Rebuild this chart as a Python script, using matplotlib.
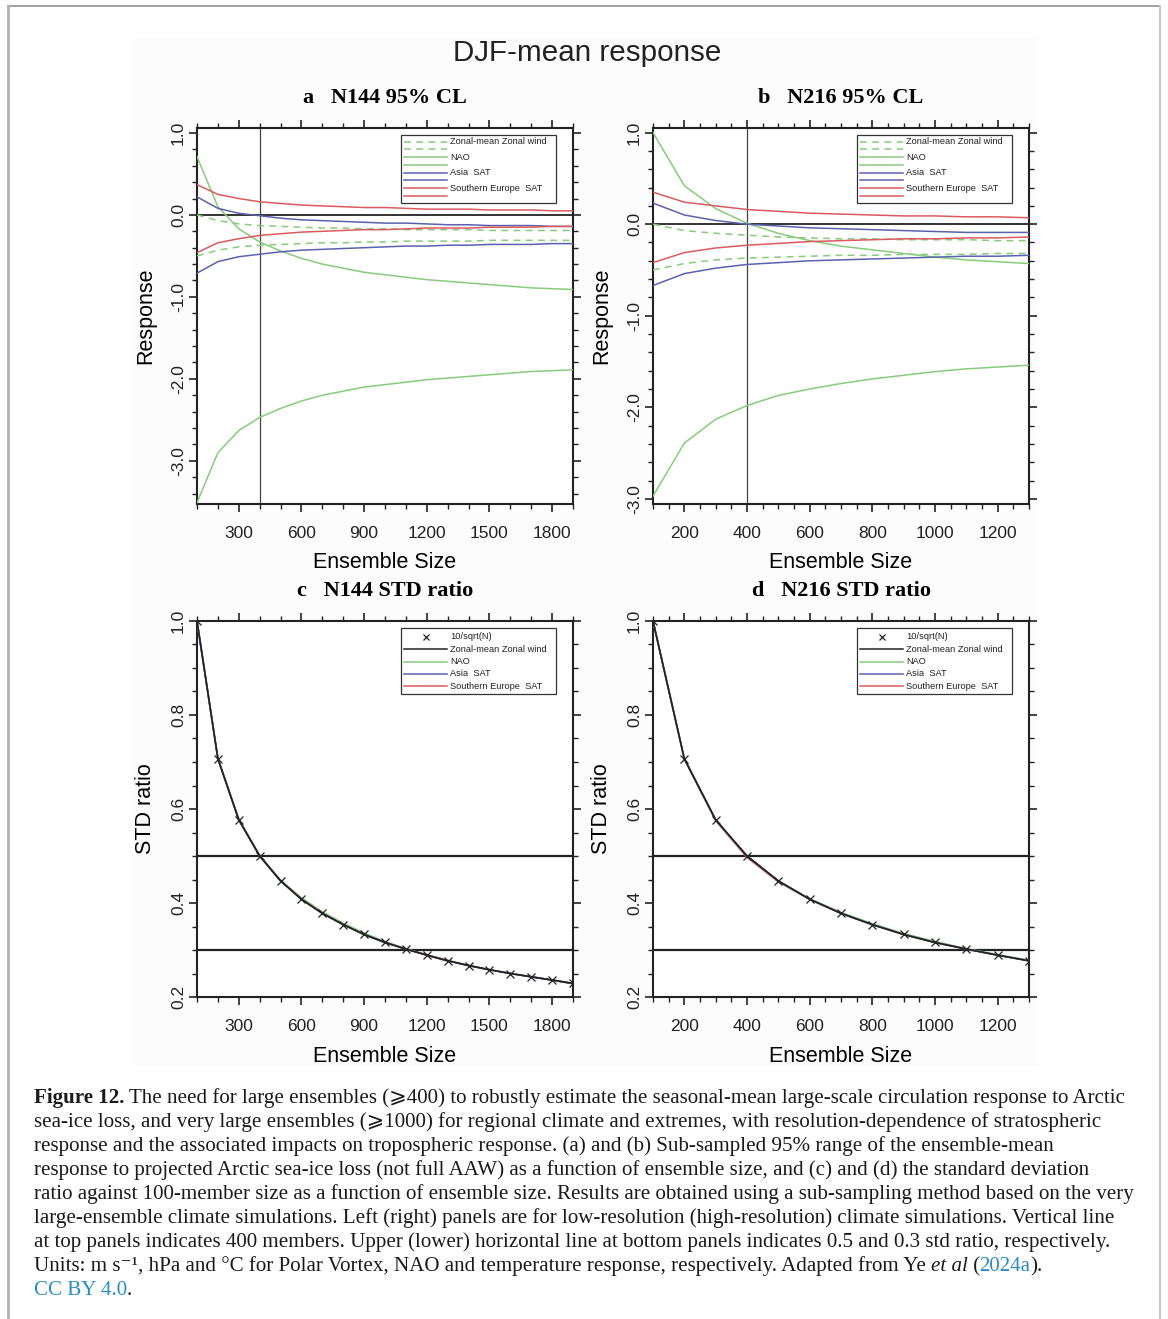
import numpy as np
import matplotlib
matplotlib.use('Agg')
import matplotlib.pyplot as plt
from matplotlib.lines import Line2D
from matplotlib.patches import Rectangle
from matplotlib.ticker import MultipleLocator, FormatStrFormatter

plt.rcParams['axes.unicode_minus'] = False
plt.rcParams['font.family'] = ['Liberation Sans', 'DejaVu Sans']

# ---------------- data ----------------
ens_low = [100, 200, 300, 400, 500, 600, 700, 800, 900, 1000,
           1100, 1200, 1300, 1400, 1500, 1600, 1700, 1800, 1900]
ens_high = [100, 200, 300, 400, 500, 600, 700, 800, 900, 1000, 1100, 1200, 1300]

# panel a : N144 95% range (upper / lower)
zw_a_up = [0.00, -0.07, -0.11, -0.13, -0.14, -0.15, -0.16, -0.16, -0.17, -0.17,
           -0.18, -0.18, -0.18, -0.18, -0.19, -0.19, -0.19, -0.19, -0.19]
zw_a_lo = [-0.50, -0.43, -0.39, -0.37, -0.36, -0.35, -0.34, -0.34, -0.33, -0.33,
           -0.32, -0.32, -0.32, -0.32, -0.31, -0.31, -0.31, -0.31, -0.31]
nao_a_up = [0.71, 0.10, -0.17, -0.33, -0.44, -0.53, -0.60, -0.65, -0.70, -0.73,
            -0.76, -0.79, -0.81, -0.83, -0.85, -0.87, -0.89, -0.90, -0.91]
nao_a_lo = [-3.51, -2.90, -2.63, -2.47, -2.36, -2.27, -2.20, -2.15, -2.10, -2.07,
            -2.04, -2.01, -1.99, -1.97, -1.95, -1.93, -1.91, -1.90, -1.89]
asia_a_up = [0.22, 0.08, 0.02, -0.01, -0.04, -0.06, -0.07, -0.08, -0.09, -0.10,
             -0.10, -0.11, -0.12, -0.12, -0.13, -0.13, -0.13, -0.14, -0.14]
asia_a_lo = [-0.71, -0.57, -0.51, -0.48, -0.45, -0.43, -0.42, -0.41, -0.40, -0.39,
             -0.38, -0.38, -0.37, -0.37, -0.36, -0.36, -0.36, -0.35, -0.35]
seu_a_up = [0.37, 0.25, 0.20, 0.16, 0.14, 0.12, 0.11, 0.10, 0.09, 0.09,
            0.08, 0.07, 0.07, 0.07, 0.06, 0.06, 0.06, 0.05, 0.05]
seu_a_lo = [-0.46, -0.34, -0.29, -0.25, -0.23, -0.21, -0.20, -0.19, -0.18, -0.18,
            -0.17, -0.16, -0.16, -0.16, -0.15, -0.15, -0.15, -0.14, -0.14]

# panel b : N216 95% range
zw_b_up = [0.00, -0.07, -0.10, -0.12, -0.14, -0.15, -0.16, -0.16, -0.17, -0.17, -0.17, -0.18, -0.18]
zw_b_lo = [-0.50, -0.43, -0.39, -0.37, -0.36, -0.35, -0.34, -0.34, -0.33, -0.33, -0.33, -0.32, -0.32]
nao_b_up = [1.00, 0.42, 0.17, 0.01, -0.10, -0.18, -0.24, -0.28, -0.32, -0.36, -0.39, -0.41, -0.43]
nao_b_lo = [-2.97, -2.39, -2.13, -1.98, -1.87, -1.80, -1.74, -1.69, -1.65, -1.61, -1.58, -1.56, -1.54]
asia_b_up = [0.23, 0.10, 0.04, 0.00, -0.02, -0.04, -0.05, -0.06, -0.07, -0.08, -0.09, -0.09, -0.09]
asia_b_lo = [-0.67, -0.54, -0.48, -0.44, -0.42, -0.40, -0.39, -0.38, -0.37, -0.36, -0.35, -0.35, -0.34]
seu_b_up = [0.35, 0.24, 0.20, 0.16, 0.14, 0.12, 0.11, 0.10, 0.09, 0.09, 0.08, 0.08, 0.07]
seu_b_lo = [-0.42, -0.31, -0.26, -0.23, -0.21, -0.19, -0.18, -0.17, -0.16, -0.16, -0.15, -0.15, -0.14]

# panels c/d : STD ratio against 100 members
ref_c = [1.000, 0.707, 0.577, 0.500, 0.447, 0.408, 0.378, 0.354, 0.333, 0.316,
         0.302, 0.289, 0.277, 0.267, 0.258, 0.250, 0.243, 0.236, 0.229]
zw_c = [1.000, 0.707, 0.577, 0.500, 0.447, 0.408, 0.378, 0.354, 0.333, 0.316,
        0.302, 0.289, 0.277, 0.267, 0.258, 0.250, 0.243, 0.236, 0.229]
nao_c = [1.000, 0.708, 0.579, 0.502, 0.449, 0.411, 0.381, 0.357, 0.336, 0.318,
         0.303, 0.289, 0.277, 0.267, 0.258, 0.250, 0.243, 0.236, 0.229]
asia_c = [1.000, 0.707, 0.577, 0.500, 0.447, 0.408, 0.378, 0.354, 0.333, 0.316,
          0.302, 0.289, 0.277, 0.267, 0.258, 0.250, 0.243, 0.236, 0.228]
seu_c = [1.000, 0.707, 0.577, 0.500, 0.447, 0.408, 0.378, 0.354, 0.333, 0.316,
         0.302, 0.290, 0.278, 0.267, 0.258, 0.250, 0.243, 0.236, 0.229]

ref_d = [1.000, 0.707, 0.577, 0.500, 0.447, 0.408, 0.378, 0.354, 0.333, 0.316, 0.302, 0.289, 0.277]
zw_d = [1.000, 0.707, 0.577, 0.500, 0.447, 0.408, 0.378, 0.354, 0.333, 0.316, 0.302, 0.289, 0.277]
nao_d = [1.000, 0.707, 0.577, 0.500, 0.447, 0.409, 0.380, 0.356, 0.335, 0.318, 0.303, 0.290, 0.278]
asia_d = [1.000, 0.707, 0.577, 0.500, 0.447, 0.408, 0.378, 0.354, 0.333, 0.316, 0.302, 0.289, 0.277]
seu_d = [1.000, 0.706, 0.575, 0.497, 0.445, 0.408, 0.378, 0.354, 0.333, 0.316, 0.302, 0.289, 0.277]

var_names = ['Zonal-mean Zonal wind', 'NAO', 'Asia  SAT', 'Southern Europe  SAT']
ref_name = '10/sqrt(N)'

C_GREEN = '#86cc7a'
C_BLUE = '#5a62b0'
C_RED = '#db5a5e'
C_BLACK = '#222222'

# ---------------- figure ----------------
W, H = 1168, 1319
fig = plt.figure(figsize=(W / 100, H / 100), dpi=100)


def fx(x):
    return x / W


def fy(y):
    return 1 - y / H


# page frame and faint image background
fig.add_artist(Rectangle((fx(133), fy(1066)), (1038 - 133) / W, (1066 - 37) / H,
                         transform=fig.transFigure, facecolor='#fcfcfc', edgecolor='none', zorder=0))
fig.add_artist(Line2D([fx(8), fx(1160)], [fy(6), fy(6)], color='#a0a0a0', lw=1.4))
fig.add_artist(Line2D([fx(8), fx(8)], [fy(6), fy(1319)], color='#b0b0b0', lw=2))
fig.add_artist(Line2D([fx(1160), fx(1160)], [fy(6), fy(1319)], color='#c8c8c8', lw=1.4))


def make_ax(l, t, r, b):
    return fig.add_axes([fx(l), fy(b), (r - l) / W, (b - t) / H])


AXW, AXH = 376.0, 375.5


def style_ax(ax, xlim, ylim, xmaj, xmin, ymaj, ymin):
    ax.set_xlim(xlim)
    ax.set_ylim(ylim)
    ax.xaxis.set_major_locator(MultipleLocator(xmaj))
    ax.xaxis.set_minor_locator(MultipleLocator(xmin))
    ax.yaxis.set_major_locator(MultipleLocator(ymaj))
    ax.yaxis.set_minor_locator(MultipleLocator(ymin))
    ax.yaxis.set_major_formatter(FormatStrFormatter('%.1f'))
    ax.tick_params(which='both', direction='out', top=True, right=True,
                   labelsize=12.5, colors='#222222')
    ax.tick_params(which='major', length=6, width=1.2)
    ax.tick_params(which='minor', length=3.8, width=1.0)
    ax.tick_params(axis='x', pad=10)
    ax.tick_params(axis='y', pad=2, labelrotation=90)
    plt.setp(ax.get_yticklabels(), va='center')
    for sp in ax.spines.values():
        sp.set_linewidth(1.5)
        sp.set_color('#222222')
    ax.set_facecolor('white')
    ax.set_xlabel('Ensemble Size', fontsize=15.5)
    ax.xaxis.set_label_coords(0.5, -0.13)


def legend_box(ax, entries, row0, drow):
    # entries: (color, linestyle, marker, label)
    n = len(entries)
    bx0, bx1 = 204, 359
    by0 = 7
    by1 = row0 + (n - 1) * drow + 7.5
    ax.add_patch(Rectangle((bx0 / AXW, 1 - by1 / AXH), (bx1 - bx0) / AXW, (by1 - by0) / AXH,
                           transform=ax.transAxes, facecolor='white', edgecolor='#333333',
                           lw=0.9, zorder=5))
    for i, (col, ls, mk, lab) in enumerate(entries):
        yy = 1 - (row0 + i * drow) / AXH
        if mk:
            ax.add_line(Line2D([228.5 / AXW], [yy], transform=ax.transAxes, color=col,
                               marker=mk, ms=5, mew=0.9, ls='none', zorder=6))
        else:
            ax.add_line(Line2D([207 / AXW, 250 / AXW], [yy, yy], transform=ax.transAxes,
                               color=col, ls=ls, lw=1.1, zorder=6))
        if lab:
            ax.text(253 / AXW, yy, lab, transform=ax.transAxes, fontsize=6.7,
                    va='center', ha='left', color='#222222', zorder=6)


DASH = (0, (4.5, 3.5))


def draw_range(ax, x, series):
    for up, lo, col, ls in series:
        ax.plot(x, up, color=col, ls=ls, lw=1.1, zorder=3)
        ax.plot(x, lo, color=col, ls=ls, lw=1.1, zorder=3)
    ax.axhline(0, color='#333333', lw=1.4, zorder=2)
    ax.axvline(400, color='#444444', lw=0.9, zorder=2)
    ents = []
    for (up, lo, col, ls), nm in zip(series, var_names):
        ents.append((col, ls, None, nm))
        ents.append((col, ls, None, ''))
    legend_box(ax, ents, 13.7, 7.72)


def draw_ratio(ax, x, ref, series):
    # coloured curves first, zonal wind (black) last so it sits on top
    for vals, col in series:
        ax.plot(x, vals, color=col, lw=1.2, zorder=3)
    ax.plot(x, ref, color=C_BLACK, ls='none', marker='x', ms=5.5, mew=0.9, zorder=4)
    ax.axhline(0.5, color='#222222', lw=1.6, zorder=2)
    ax.axhline(0.3, color='#222222', lw=1.6, zorder=2)
    ents = [(C_BLACK, '-', 'x', ref_name), (C_BLACK, '-', None, var_names[0]),
            (C_GREEN, '-', None, var_names[1]), (C_BLUE, '-', None, var_names[2]),
            (C_RED, '-', None, var_names[3])]
    legend_box(ax, ents, 15.7, 12.4)


serif = ['Liberation Serif', 'DejaVu Serif']

# panel a
ax_a = make_ax(197, 128, 573, 503.5)
style_ax(ax_a, (100, 1900), (-3.52, 1.06), 300, 100, 1.0, 0.2)
draw_range(ax_a, ens_low, [(zw_a_up, zw_a_lo, C_GREEN, DASH),
                           (nao_a_up, nao_a_lo, C_GREEN, '-'),
                           (asia_a_up, asia_a_lo, C_BLUE, '-'),
                           (seu_a_up, seu_a_lo, C_RED, '-')])
ax_a.set_title('a   N144 95% CL', fontsize=16, fontweight='bold', family=serif, pad=18)

# panel b
ax_b = make_ax(653, 128, 1029, 503.5)
style_ax(ax_b, (100, 1300), (-3.05, 1.05), 200, 50, 1.0, 0.2)
draw_range(ax_b, ens_high, [(zw_b_up, zw_b_lo, C_GREEN, DASH),
                            (nao_b_up, nao_b_lo, C_GREEN, '-'),
                            (asia_b_up, asia_b_lo, C_BLUE, '-'),
                            (seu_b_up, seu_b_lo, C_RED, '-')])
ax_b.set_title('b   N216 95% CL', fontsize=16, fontweight='bold', family=serif, pad=18)

# panel c
ax_c = make_ax(197, 621, 573, 997)
style_ax(ax_c, (100, 1900), (0.2, 1.0), 300, 100, 0.2, 0.05)
draw_ratio(ax_c, ens_low, ref_c, [(nao_c, C_GREEN), (seu_c, C_RED), (asia_c, C_BLUE), (zw_c, C_BLACK)])
ax_c.set_title('c   N144 STD ratio', fontsize=16, fontweight='bold', family=serif, pad=18)

# panel d
ax_d = make_ax(653, 621, 1029, 997)
style_ax(ax_d, (100, 1300), (0.2, 1.0), 200, 50, 0.2, 0.05)
draw_ratio(ax_d, ens_high, ref_d, [(seu_d, C_RED), (nao_d, C_GREEN), (asia_d, C_BLUE), (zw_d, C_BLACK)])
ax_d.set_title('d   N216 STD ratio', fontsize=16, fontweight='bold', family=serif, pad=18)

for ax, lab in [(ax_a, 'Response'), (ax_b, 'Response'), (ax_c, 'STD ratio'), (ax_d, 'STD ratio')]:
    ax.set_ylabel(lab, fontsize=15.5)
    ax.yaxis.set_label_coords(-0.108, 0.5)

fig.text(fx(587), fy(53), 'DJF-mean response', fontsize=21.3, ha='center', va='center',
         color='#222222')

# ---------------- caption ----------------
CAP_FS = 15.1
CAP_FAM = ['Liberation Serif', 'DejaVu Serif', 'DejaVu Sans']
LINK = '#2b8cc4'
cap_lines = [
    [('Figure 12.', 'b'), (' The need for large ensembles (\u2a7e400) to robustly estimate the seasonal-mean large-scale circulation response to Arctic', 'n')],
    [('sea-ice loss, and very large ensembles (\u2a7e1000) for regional climate and extremes, with resolution-dependence of stratospheric', 'n')],
    [('response and the associated impacts on tropospheric response. (a) and (b) Sub-sampled 95% range of the ensemble-mean', 'n')],
    [('response to projected Arctic sea-ice loss (not full AAW) as a function of ensemble size, and (c) and (d) the standard deviation', 'n')],
    [('ratio against 100-member size as a function of ensemble size. Results are obtained using a sub-sampling method based on the very', 'n')],
    [('large-ensemble climate simulations. Left (right) panels are for low-resolution (high-resolution) climate simulations. Vertical line', 'n')],
    [('at top panels indicates 400 members. Upper (lower) horizontal line at bottom panels indicates 0.5 and 0.3 std ratio, respectively.', 'n')],
    [('Units: m s\u207b\u00b9, hPa and \u00b0C for Polar Vortex, NAO and temperature response, respectively. Adapted from Ye ', 'n'),
     ('et al', 'i'), (' (', 'n'), ('2024a', 'c'), (').', 'n')],
    [('CC BY 4.0', 'c'), ('.', 'n')],
]

renderer = fig.canvas.get_renderer()
for i, segs in enumerate(cap_lines):
    x = 33.5
    y = 1103 + 24 * i
    for txt, st in segs:
        kw = dict(fontsize=CAP_FS, family=CAP_FAM, va='baseline', ha='left', color='#1a1a1a')
        if st == 'b':
            kw['fontweight'] = 'bold'
        if st == 'i':
            kw['fontstyle'] = 'italic'
        if st == 'c':
            kw['color'] = LINK
        t = fig.text(fx(x), fy(y), txt, **kw)
        x += t.get_window_extent(renderer).width

fig.savefig('out.png', dpi=100)
